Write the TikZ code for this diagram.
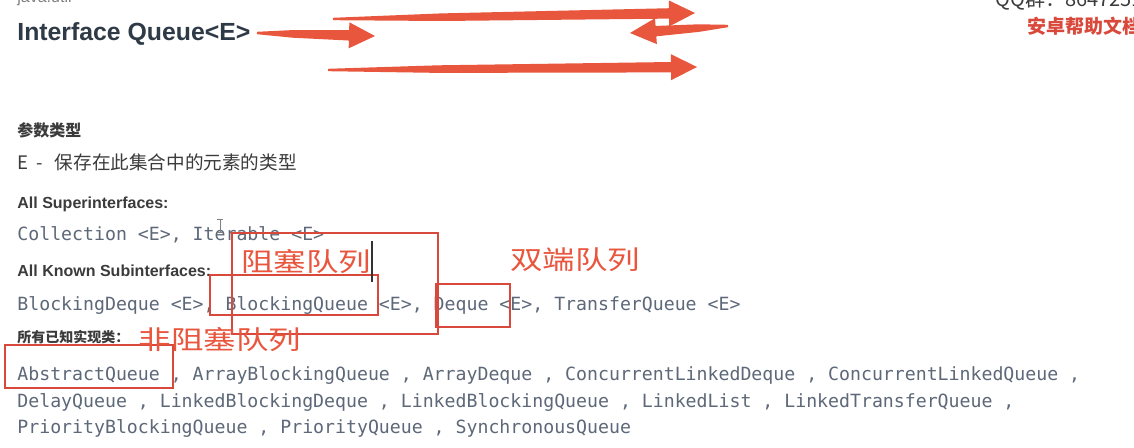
\documentclass[tikz,border=0pt]{standalone}
\usepackage{fontspec}
\setmainfont{Liberation Sans}
\setmonofont{DejaVu Sans Mono}
\newfontfamily\cjk{Noto Sans CJK SC}
\usetikzlibrary{calc}

\definecolor{annot}{HTML}{E9563E}
\definecolor{boxred}{HTML}{D9493B}
\definecolor{headgray}{HTML}{2F3A47}
\definecolor{labelgray}{HTML}{3B3B3B}
\definecolor{codegray}{HTML}{5D6878}

% hand drawn red arrow from tail #1 to tip #2
\newcommand{\markarrow}[2]{%
  \coordinate (#1#2) at ($(#2)!13pt!(#1)$);
  \coordinate (#1m) at ($(#1)!0.3!(#2)$);
  \fill [annot] ($(#1)!0.6pt!90:(#2)$) -- ($(#1m)!1.9pt!90:(#2)$) -- ($(#1#2)!2.6pt!90:(#2)$)
    -- ($(#1#2)!6.5pt!90:(#2)$) -- (#2) -- ($(#1#2)!6.5pt!-90:(#2)$)
    -- ($(#1#2)!2.6pt!-90:(#2)$) -- ($(#1m)!1.9pt!-90:(#2)$) -- ($(#1)!0.6pt!-90:(#2)$) -- cycle;}

\begin{document}
\begin{tikzpicture}[x=0.5pt,y=-0.5pt,
  title/.style={anchor=base west, inner sep=0pt, text=headgray, font=\fontsize{12.4}{14}\selectfont\bfseries},
  label/.style={anchor=base west, inner sep=0pt, text=labelgray, font=\fontsize{8}{10}\selectfont\bfseries},
  code/.style={anchor=base west, inner sep=0pt, text=codegray, font=\ttfamily\fontsize{9.1}{11}\selectfont},
  markbox/.style={draw=boxred, line width=1.2pt},
  marktext/.style={inner sep=0pt, text=annot, font=\cjk\fontsize{13}{15}\selectfont},
  cursor/.style={draw=black!80, line width=0.6pt}]

\useasboundingbox (0,0) rectangle (1134,448);
\clip (0,0) rectangle (1134,448);
\fill [white] (0,0) rectangle (1134,448);

\node [anchor=base west, inner sep=0pt, text=gray, font=\fontsize{8}{10}\selectfont] (pkg) at (17,3) {java.util};
\node [title] (title) at (17,41) {Interface Queue<E>};
\node [anchor=base west, inner sep=0pt, text=labelgray, font=\cjk\fontsize{10}{12}\selectfont] (qq) at (995,7) {QQ群：8647251};
\node [anchor=base west, inner sep=0pt, text=boxred, font=\cjk\fontsize{9.5}{11}\selectfont\bfseries] (site) at (1027,34) {安卓帮助文档};

\node [label, font=\cjk\fontsize{8}{10}\selectfont\bfseries] (param) at (17,137) {参数类型};
\node [label, font=\cjk\fontsize{9.3}{11}\selectfont] (paramE) at (17,169.5) {E\hspace{4pt}-\hspace{6pt}保存在此集合中的元素的类型};
\node [label] (super) at (17,209) {All Superinterfaces:};
\node [code] (superlist) at (17,240.6) {Collection <E>, Iterable <E>};
\node [label] (sub) at (17,277) {All Known Subinterfaces:};
\node [code] (sublist) at (17,310.6) {BlockingDeque <E>, BlockingQueue <E>, Deque <E>, TransferQueue <E>};
\node [label, font=\cjk\fontsize{7}{9}\selectfont\bfseries] (impl) at (17,343) {所有已知实现类：};
\node [code] (impl1) at (17,380.6) {AbstractQueue , ArrayBlockingQueue , ArrayDeque , ConcurrentLinkedDeque , ConcurrentLinkedQueue ,};
\node [code] (impl2) at (17,407.6) {DelayQueue , LinkedBlockingDeque , LinkedBlockingQueue , LinkedList , LinkedTransferQueue ,};
\node [code] (impl3) at (17,433.6) {PriorityBlockingQueue , PriorityQueue , SynchronousQueue};

% boxes
\draw [markbox] (232,233) rectangle (438,334);
\draw [markbox] (210,275) rectangle (378,315);
\draw [markbox] (436,284) rectangle (510,327);
\draw [markbox] (5,345) rectangle (173,388);

\node [marktext] (blocking) at (306,262) {\scalebox{1.25}[1]{阻塞队列}};
\node [marktext] (deque) at (575,260) {\scalebox{1.25}[1]{双端队列}};
\node [marktext] (nonblocking) at (220,340) {\scalebox{1.25}[1]{非阻塞队列}};

\draw [cursor] (372,241) -- (372,282);
\draw [draw=gray, line width=0.4pt] (217,219) -- (223,219) (220,219) -- (220,232) (217,232) -- (223,232);

% arrows
\coordinate (t1) at (257,33);
\coordinate (h1) at (375,36);
\coordinate (t2) at (333,19);
\coordinate (h2) at (695,13);
\coordinate (t3) at (728,26);
\coordinate (h3) at (630,33);
\coordinate (t4) at (328,70);
\coordinate (h4) at (697,67);

\foreach \i in {1,2,3,4}
    \markarrow{t\i}{h\i};

\end{tikzpicture}
\end{document}
